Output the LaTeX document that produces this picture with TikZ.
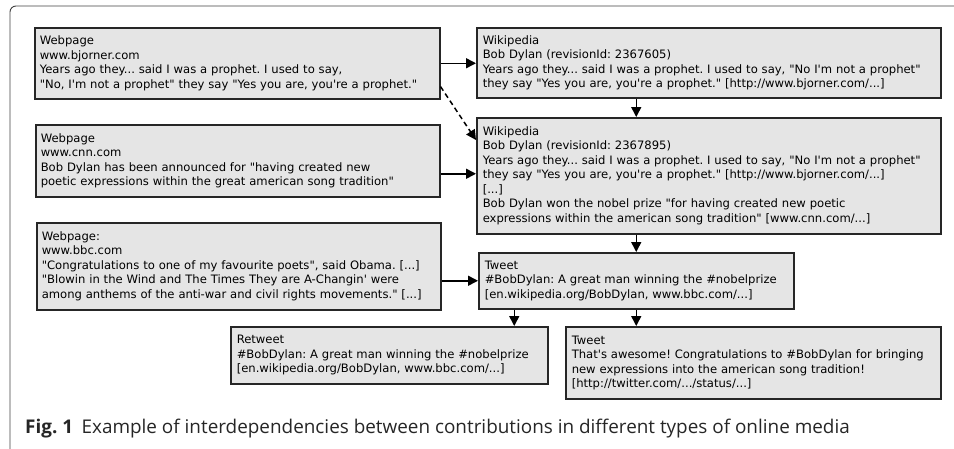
\documentclass[tikz,border=0pt]{standalone}
\usepackage{fontspec}
\newfontfamily\boxfont[Ligatures=TeXOff]{DejaVu Sans}
\newfontfamily\capfont{Open Sans}
\usetikzlibrary{arrows.meta,calc}
\begin{document}
\frenchspacing
\begin{tikzpicture}[x=1pt,y=-1pt,
  box/.style={draw=black!85,line width=1.5pt,fill=black!10,anchor=north west,
    inner xsep=5pt,inner ysep=0pt,align=left,
    font=\boxfont\fontsize{11.6}{14.5}\selectfont},
  arr/.style={line width=1.5pt,-{Triangle[length=10pt,width=10pt]}},
  frame/.style={draw=black!75,line width=0.9pt,rounded corners=6pt}]
\useasboundingbox (0,0) rectangle (954,448);
\draw[frame] (10,470) -- (10,6) -- (970,6);

\node[box,minimum width=405pt,minimum height=71pt,text width=395pt] (b1) at (34,27)
 {Webpage\\www.bjorner.com\\Years ago they... said I was a prophet. I used to say,\\"No, I'm not a prophet" they say "Yes you are, you're a prophet."};
\node[box,minimum width=404pt,minimum height=72pt,text width=394pt] (b2) at (35,124)
 {Webpage\\www.cnn.com\\Bob Dylan has been announced for "having created new\\poetic expressions within the great american song tradition"};
\node[box,minimum width=404pt,minimum height=87pt,text width=394pt] (b3) at (36,222)
 {Webpage:\\www.bbc.com\\"Congratulations to one of my favourite poets", said Obama. [...]\\"Blowin in the Wind and The Times They are A-Changin' were\\among anthems of the anti-war and civil rights movements." [...]};
\node[box,minimum width=464pt,minimum height=70pt,text width=452pt,inner xsep=6pt] (w1) at (476,27)
 {Wikipedia\\Bob Dylan (revisionId: 2367605)\\Years ago they... said I was a prophet. I used to say, "No I'm not a prophet"\\they say "Yes you are, you're a prophet." [http://www.bjorner.com/...]};
\node[box,minimum width=464pt,minimum height=116pt,text width=452pt,inner xsep=6pt] (w2) at (476,117)
 {Wikipedia\\Bob Dylan (revisionId: 2367895)\\Years ago they... said I was a prophet. I used to say, "No I'm not a prophet"\\they say "Yes you are, you're a prophet." [http://www.bjorner.com/...]\\{}[...]\\Bob Dylan won the nobel prize "for having created new poetic\\expressions within the american song tradition" [www.cnn.com/...]};
\node[box,minimum width=315pt,minimum height=56pt,text width=303pt,inner xsep=6pt] (t1) at (478,252)
 {Tweet\\\#BobDylan: A great man winning the \#nobelprize\\{}[en.wikipedia.org/BobDylan, www.bbc.com/...]};
\node[box,minimum width=317pt,minimum height=57pt,text width=305pt,inner xsep=6pt] (rt) at (230,326)
 {Retweet\\\#BobDylan: A great man winning the \#nobelprize\\{}[en.wikipedia.org/BobDylan, www.bbc.com/...]};
\node[box,minimum width=375pt,minimum height=72pt,text width=363pt,inner xsep=6pt] (t2) at (565,326)
 {Tweet\\That's awesome! Congratulations to \#BobDylan for bringing\\new expressions into the american song tradition!\\{}[http://twitter.com/.../status/...]};

\draw[arr] (b1.east) -- (b1.east -| w1.west);
\draw[arr,dash pattern=on 5pt off 3.5pt] ([yshift=13pt]b1.south east) -- ([yshift=-23pt]w2.north west);
\coordinate (c2) at ([yshift=-13pt]b2.east);
\draw[arr] (c2) -- (c2 -| w2.west);
\draw[arr] (t1.north |- w1.south) -- (t1.north |- w2.north);
\draw[arr] (t1.north |- w2.south) -- (t1.north);
\draw[arr] (b3.east |- t1.west) -- (t1.west);
\coordinate (c3) at ([xshift=-122pt]t1.south);
\draw[arr] (c3) -- (c3 |- rt.north);
\draw[arr] (t1.south) -- (t1.south |- t2.north);

\node[anchor=base west,inner sep=0pt,text=black!85,font=\capfont\fontsize{18.9}{22}\selectfont] (cap) at (25,433)
 {\textbf{Fig. 1}\hspace{0.45em}Example of interdependencies between contributions in different types of online media};
\end{tikzpicture}
\end{document}
